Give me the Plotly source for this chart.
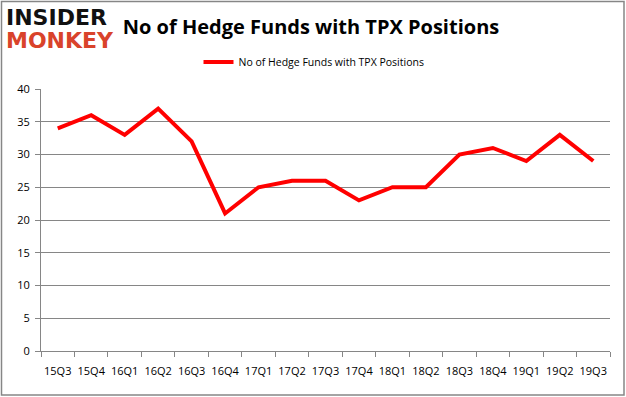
import plotly.graph_objects as go

quarters = ["15Q3", "15Q4", "16Q1", "16Q2", "16Q3", "16Q4", "17Q1", "17Q2", "17Q3",
            "17Q4", "18Q1", "18Q2", "18Q3", "18Q4", "19Q1", "19Q2", "19Q3"]
hedge_funds = [34, 36, 33, 37, 32, 21, 25, 26, 26, 23, 25, 25, 30, 31, 29, 33, 29]
series_name = "No of Hedge Funds with TPX Positions"
y_ticks = [0, 5, 10, 15, 20, 25, 30, 35, 40]

fig = go.Figure()
fig.add_trace(go.Scatter(
    x=quarters, y=hedge_funds, mode="lines", name=series_name,
    line=dict(color="#ff0000", width=4),
))

font_main = "'Open Sans', 'DejaVu Sans', sans-serif"
W, H = 626, 397
L, R, T, B = 41, 16, 89, 46
pw, ph = W - L - R, H - T - B

fig.update_layout(
    width=W, height=H,
    margin=dict(l=L, r=R, t=T, b=B, autoexpand=False),
    paper_bgcolor="white", plot_bgcolor="white",
    font=dict(family=font_main, size=11, color="#000000"),
    title=dict(text="<b>No of Hedge Funds with TPX Positions</b>",
               x=311 / W, xanchor="center", y=1 - 27 / H, yanchor="middle",
               font=dict(size=20, color="#000000")),
    showlegend=True,
    legend=dict(orientation="h", x=(314 - L) / pw, xanchor="center",
                y=1 + (T - 62) / ph, yanchor="middle",
                font=dict(size=10.5), bgcolor="rgba(0,0,0,0)"),
    xaxis=dict(type="category", showgrid=False, showline=True, linecolor="#868686",
               linewidth=1, ticks="outside", tickson="boundaries", ticklen=5,
               tickcolor="#868686", tickfont=dict(size=11), tickangle=0,
               ticklabelstandoff=10, range=[-0.5, 16.5]),
    yaxis=dict(range=[0, 40], tickvals=y_ticks, showgrid=True, gridcolor="#868686",
               gridwidth=1, showline=True, linecolor="#868686", ticks="outside",
               ticklen=5, tickcolor="#868686", tickfont=dict(size=11), zeroline=False,
               ticklabelstandoff=3),
)

fig.add_shape(type="rect", xref="paper", yref="paper",
              x0=-(L - 1.5) / pw, x1=1 + (R - 2) / pw,
              y0=-(B - 2) / ph, y1=1 + (T - 1.5) / ph,
              line=dict(color="#868686", width=1.5))

fig.add_annotation(text="<b>INSIDER</b>", xref="paper", yref="paper",
                   x=-(L - 4) / pw, y=1 + (T - 18) / ph, xanchor="left", yanchor="middle",
                   showarrow=False, font=dict(size=22, color="#111111",
                                              family="'DejaVu Sans', sans-serif"))
fig.add_annotation(text="<b>MONKEY</b>", xref="paper", yref="paper",
                   x=-(L - 4) / pw, y=1 + (T - 41) / ph, xanchor="left", yanchor="middle",
                   showarrow=False, font=dict(size=22, color="#d9432b",
                                              family="'DejaVu Sans', sans-serif"))

fig.write_html("out.html", config={"displayModeBar": False},
               post_script="document.body.style.margin='0';")
